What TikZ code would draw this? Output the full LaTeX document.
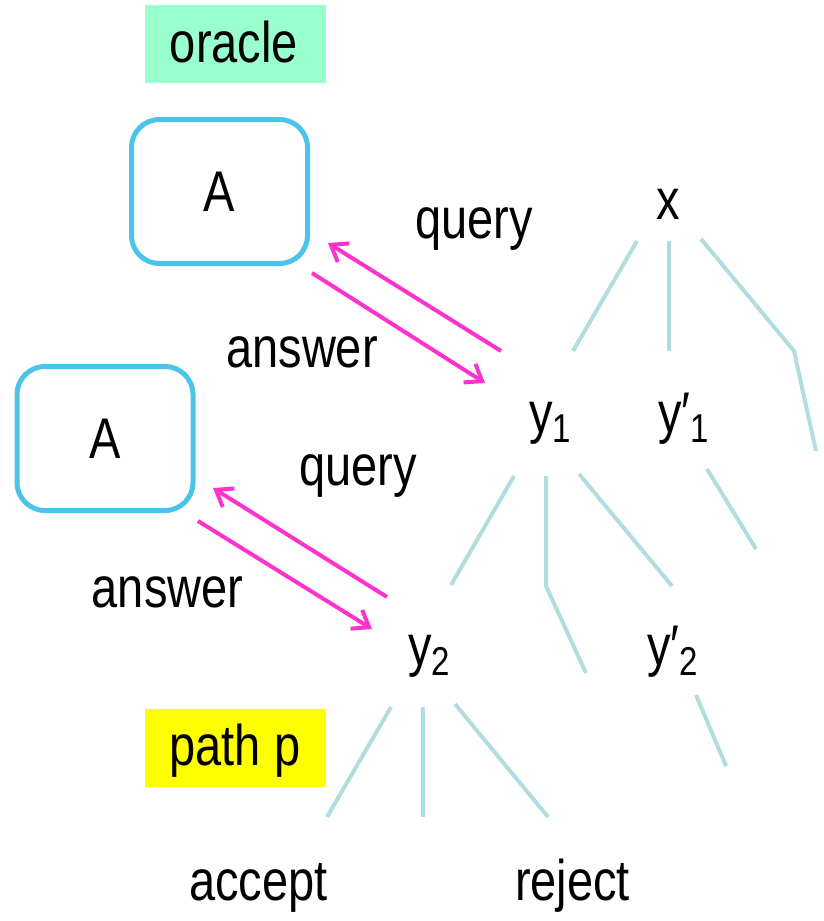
\documentclass[tikz,border=0pt]{standalone}
\usepackage{fontspec}
\setmainfont{Liberation Sans}
\usepackage{graphicx}
\usetikzlibrary{arrows.meta}
\definecolor{msgpink}{HTML}{FF33CC}
\definecolor{boxcyan}{HTML}{4CC4EA}
\definecolor{treeline}{HTML}{B2DDE0}
\definecolor{oraclegreen}{HTML}{99FFCC}
\definecolor{pathyellow}{HTML}{FFFF00}
\newcommand\vs[1]{\scalebox{1}[1.22]{#1}}
\newcommand\lowsub[1]{\raisebox{-8.2pt}{\fontsize{33}{33}\selectfont #1}}
\begin{document}
\begin{tikzpicture}[x=1pt,y=-1pt,
  txt/.style={inner sep=0pt, font=\fontsize{47}{56}\selectfont},
  abox/.style={draw=boxcyan, line width=5pt, rounded corners=28pt, minimum width=176pt, minimum height=144pt, inner sep=0pt, font=\fontsize{47}{56}\selectfont},
  tagbox/.style={inner sep=0pt, minimum width=181pt, minimum height=78pt},
  branch/.style={draw=treeline, line width=4pt},
  msg/.style={draw=msgpink, line width=4pt, -{Straight Barb[length=15pt,width=22pt]}}]
\useasboundingbox (0,0) rectangle (823,921);

% label boxes
\node[tagbox, fill=oraclegreen] (oraclebox) at (235.5,44) {};
\node[txt, anchor=base] (oracle) at (234,62) {\vs{oracle}};
\node[tagbox, fill=pathyellow] (pathbox) at (235.5,748) {};
\node[txt, anchor=base] (pathp) at (235,765) {\vs{path p}};

% A boxes
\node[abox] (A1) at (219.5,191.5) {\vs{A}};
\node[abox] (A2) at (105,438.5) {\vs{A}};

% labels
\node[txt, anchor=base] (query1) at (474,238) {\vs{query}};
\node[txt, anchor=base] (answer1) at (302,367) {\vs{answer}};
\node[txt, anchor=base] (query2) at (358,485) {\vs{query}};
\node[txt, anchor=base] (answer2) at (167.5,607) {\vs{answer}};
\node[txt, anchor=base] (accept) at (258.5,900) {\vs{accept}};
\node[txt, anchor=base] (reject) at (572.5,900) {\vs{reject}};

% tree nodes
\node[txt, anchor=base] (x) at (668,219) {\vs{x}};
\node[txt, anchor=base west] (y1) at (529,432) {\vs{y\lowsub{1}}};
\node[txt, anchor=base west] (yp1) at (658,432) {\vs{y′\lowsub{1}}};
\node[txt, anchor=base west] (y2) at (408,665) {\vs{y\lowsub{2}}};
\node[txt, anchor=base west] (yp2) at (647,665) {\vs{y′\lowsub{2}}};

% tree branch end points
\coordinate (xa) at (637,241); \coordinate (xa2) at (573,351);
\coordinate (xb) at (669,241); \coordinate (xb2) at (669,351);
\coordinate (xc) at (701,239); \coordinate (xcm) at (794,351); \coordinate (xc2) at (816,451);
\coordinate (ya) at (514,476); \coordinate (ya2) at (451,585);
\coordinate (yb) at (546,476); \coordinate (ybm) at (546,586); \coordinate (yb2) at (586,673);
\coordinate (yc) at (579,474); \coordinate (yc2) at (672,586);
\coordinate (ypa) at (707,469); \coordinate (ypa2) at (756,549);
\coordinate (za) at (391,707); \coordinate (za2) at (327,817);
\coordinate (zb) at (423,707); \coordinate (zb2) at (423,817);
\coordinate (zc) at (455,704); \coordinate (zc2) at (548,817);
\coordinate (zpa) at (696,695); \coordinate (zpa2) at (726,766);

\path[branch] (xa) -- (xa2);
\path[branch] (xb) -- (xb2);
\path[branch] (xc) -- (xcm) -- (xc2);
\path[branch] (ya) -- (ya2);
\path[branch] (yb) -- (ybm) -- (yb2);
\path[branch] (yc) -- (yc2);
\path[branch] (ypa) -- (ypa2);
\path[branch] (za) -- (za2);
\path[branch] (zb) -- (zb2);
\path[branch] (zc) -- (zc2);
\path[branch] (zpa) -- (zpa2);

% message arrows
\coordinate (q1s) at (501,351); \coordinate (q1e) at (328,243);
\coordinate (a1s) at (312,273); \coordinate (a1e) at (485,383);
\coordinate (q2s) at (387,597); \coordinate (q2e) at (213,488);
\coordinate (a2s) at (198,521); \coordinate (a2e) at (372,629);
\draw[msg] (q1s) -- (q1e);
\draw[msg] (a1s) -- (a1e);
\draw[msg] (q2s) -- (q2e);
\draw[msg] (a2s) -- (a2e);
\end{tikzpicture}
\end{document}
